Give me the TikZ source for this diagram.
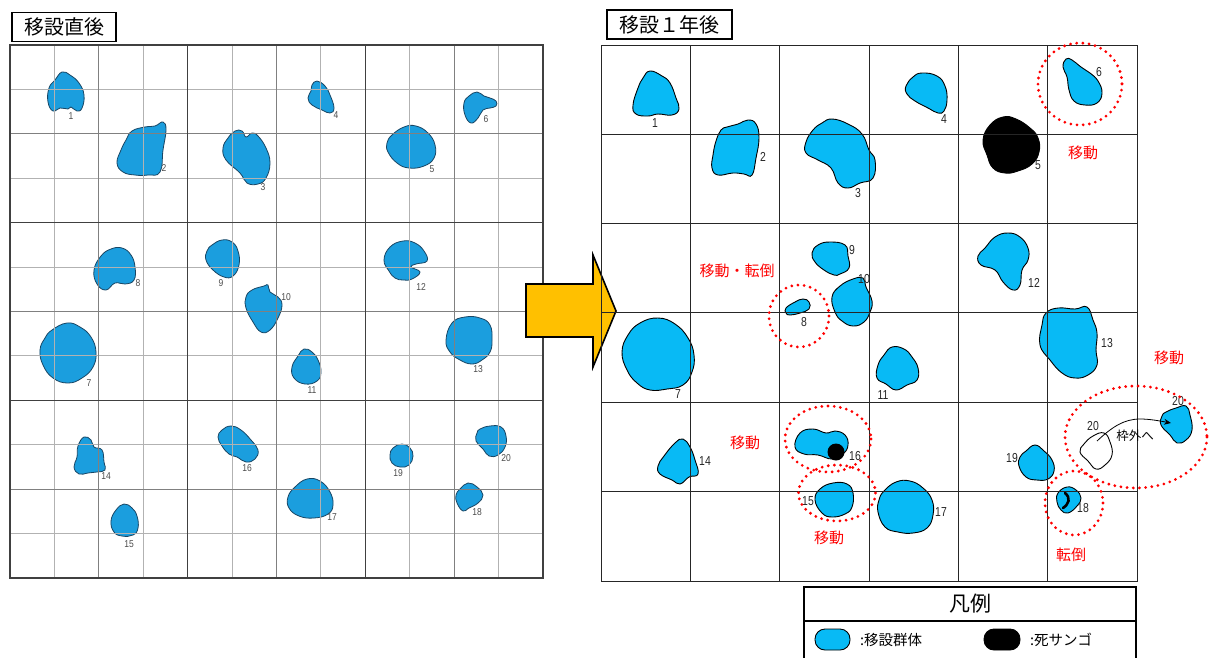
\documentclass[tikz,border=0pt]{standalone}
\usepackage{fontspec}
\setmainfont{Liberation Sans}
\newfontfamily\jp{Noto Sans CJK JP}
\usetikzlibrary{arrows.meta}
\definecolor{coralL}{RGB}{27,158,222}
\definecolor{coralLedge}{RGB}{25,70,100}
\definecolor{coralR}{RGB}{8,186,245}
\definecolor{arrowY}{RGB}{255,192,0}
\definecolor{noteR}{RGB}{255,0,0}
\tikzset{
  lthin/.style={draw=black!30, line width=0.9pt},
  lmid/.style={draw=black!50, line width=1.1pt},
  lthick/.style={draw=black!75, line width=1.6pt},
  rgrid/.style={draw=black!85, line width=1pt},
  blobL/.style={fill=coralL, draw=coralLedge, line width=0.8pt},
  blobR/.style={fill=coralR, draw=black, line width=0.9pt},
  deadR/.style={fill=black, draw=black, line width=0.9pt},
  ghostR/.style={fill=white, draw=black, line width=0.9pt},
  llbl/.style={font=\fontsize{10}{11}\selectfont, text=black!70, inner sep=0pt, xscale=0.85},
  rlbl/.style={font=\fontsize{13}{14}\selectfont, text=black!85, inner sep=0pt, xscale=0.8},
  note/.style={font=\jp\fontsize{15}{17}\selectfont, text=noteR, inner sep=0pt},
  ring/.style={draw=noteR, line width=3.1pt, dash pattern=on 0pt off 6.2pt, line cap=round},
  titlebox/.style={draw=black, line width=1.2pt, fill=white, font=\jp\fontsize{20}{22}\selectfont, inner sep=0pt},
  smoothblob/.style={smooth cycle, tension=0.75}
}
\begin{document}
\begin{tikzpicture}[x=1pt,y=-1pt]
\useasboundingbox (0,0) rectangle (1212,657);
\fill[white] (0,0) rectangle (1212,657);

% ---------------- left panel: just after transplanting ----------------
\path[blobL] plot[smoothblob] coordinates {(55,80) (62,72) (70,75) (79,83) (84,95) (82,108) (77,111) (71,107) (68,109) (60,108) (53,111) (48,102) (49,88)};
\path[blobL] plot[smoothblob] coordinates {(132,131) (145,127) (155,126) (163,122) (166,130) (163,150) (160,172) (148,175) (135,175) (123,172) (117,163) (121,150) (126,140)};
\path[blobL] plot[smoothblob] coordinates {(228,138) (235,131) (242,131) (246,137) (252,133) (258,136) (266,148) (270,163) (266,178) (258,184) (247,183) (240,173) (226,160) (223,148)};
\path[blobL] plot[smoothblob] coordinates {(312,85) (317,81) (325,86) (330,95) (334,108) (330,113) (322,110) (312,105) (308,98) (311,91)};
\path[blobL] plot[smoothblob] coordinates {(392,135) (404,127) (416,126) (428,133) (435,145) (434,158) (424,166) (409,168) (397,163) (388,152) (387,143)};
\path[blobL] plot[smoothblob] coordinates {(469,96) (477,92) (484,96) (490,98) (496,101) (496,106) (490,108) (483,110) (478,118) (471,123) (465,115) (464,103)};
\path[blobL] plot[smoothblob] coordinates {(52,330) (67,323) (80,327) (91,337) (96,352) (93,367) (82,378) (68,383) (53,378) (43,365) (40,350) (45,338)};
\path[blobL] plot[smoothblob] coordinates {(101,256) (111,249) (122,248) (131,255) (135,267) (134,280) (125,284) (115,283) (106,290) (97,284) (94,270)};
\path[blobL] plot[smoothblob] coordinates {(212,245) (222,240) (232,242) (238,251) (239,265) (233,276) (224,277) (213,270) (206,260) (207,251)};
\path[blobL] plot[smoothblob] coordinates {(252,290) (264,286) (268,285) (270,292) (278,297) (282,305) (278,318) (270,330) (261,332) (253,322) (246,308) (246,297)};
\path[blobL] plot[smoothblob] coordinates {(298,356) (304,349) (312,352) (318,360) (321,372) (317,381) (305,384) (294,378) (292,367)};
\path[blobL] plot[smoothblob] coordinates {(390,247) (403,241) (415,243) (424,251) (427,261) (416,264) (411,267) (420,272) (412,279) (403,280) (395,278) (389,271) (384,260)};
\path[blobL] plot[smoothblob] coordinates {(452,323) (465,317) (480,318) (490,325) (492,340) (490,352) (482,360) (472,364) (460,360) (450,352) (446,340)};
\path[blobL] plot[smoothblob] coordinates {(78,446) (84,437) (91,440) (94,447) (102,450) (104,462) (105,470) (97,472) (88,473) (79,474) (74,467) (77,457)};
\path[blobL] plot[smoothblob] coordinates {(116,510) (124,504) (132,508) (137,516) (138,528) (133,535) (122,536) (114,532) (111,521)};
\path[blobL] plot[smoothblob] coordinates {(222,430) (231,426) (241,430) (251,440) (258,450) (255,459) (246,462) (237,457) (229,454) (222,446) (218,437)};
\path[blobL] plot[smoothblob] coordinates {(295,487) (307,479) (320,481) (330,492) (333,505) (328,514) (314,518) (299,516) (289,508) (288,497)};
\path[blobL] plot[smoothblob] coordinates {(460,489) (468,483) (477,487) (483,495) (478,503) (469,508) (463,511) (457,503) (456,495)};
\path[blobL] plot[smoothblob] coordinates {(393,448) (402,444) (410,448) (413,456) (409,465) (400,467) (392,463) (390,455)};
\path[blobL] plot[smoothblob] coordinates {(480,429) (490,426) (501,427) (506,436) (505,447) (498,455) (489,456) (483,449) (476,441) (477,433)};

% survey grid, 12 x 12 cells
\foreach \i in {1,3,5,7,9,11} {
  \draw[lthin] ({10+\i*44.417},45) -- ++(0,533);
  \draw[lthin] (10,{45+\i*44.417}) -- ++(533,0);
}
\foreach \i in {2,6,10} {
  \draw[lmid] ({10+\i*44.417},45) -- ++(0,533);
  \draw[lmid] (10,{45+\i*44.417}) -- ++(533,0);
}
\foreach \i in {4,8} {
  \draw[lthick] ({10+\i*44.417},45) -- ++(0,533);
  \draw[lthick] (10,{45+\i*44.417}) -- ++(533,0);
}
\draw[lthick] (10,45) rectangle (543,578);

\node[llbl] (l1) at (71,116) {1};
\node[llbl] (l2) at (164,168) {2};
\node[llbl] (l3) at (263,187) {3};
\node[llbl] (l4) at (336,115) {4};
\node[llbl] (l5) at (432,169) {5};
\node[llbl] (l6) at (486,119) {6};
\node[llbl] (l7) at (89,383) {7};
\node[llbl] (l8) at (138,283) {8};
\node[llbl] (l9) at (221,283) {9};
\node[llbl] (l10) at (286,297) {10};
\node[llbl] (l11) at (312,390) {11};
\node[llbl] (l12) at (421,287) {12};
\node[llbl] (l13) at (478,369) {13};
\node[llbl] (l14) at (106,476) {14};
\node[llbl] (l15) at (129,544) {15};
\node[llbl] (l16) at (247,468) {16};
\node[llbl] (l17) at (332,517) {17};
\node[llbl] (l18) at (477,512) {18};
\node[llbl] (l19) at (398,473) {19};
\node[llbl] (l20) at (506,458) {20};

\node[titlebox, minimum width=104pt, minimum height=29pt] (tleft) at (64,27) {移設直後};

% ---------------- transition arrow ----------------
\draw[fill=arrowY, line width=1.6pt, line join=miter] (526,284) -- (593,284) -- (593,255) -- (616,311) -- (593,367) -- (593,337) -- (526,337) -- cycle;

% ---------------- right panel: one year later ----------------
\path[blobR] plot[smoothblob] coordinates {(650,71) (662,76) (670,83) (676,98) (679,109) (672,115) (658,114) (648,116) (636,114) (633,105) (638,88) (643,78)};
\path[blobR] plot[smoothblob] coordinates {(727,127) (738,124) (748,120) (756,124) (759,138) (756,158) (752,175) (744,174) (733,173) (718,175) (712,168) (713,155) (716,141) (721,130)};
\path[blobR] plot[smoothblob] coordinates {(822,123) (832,119) (848,124) (862,134) (869,150) (875,160) (873,178) (860,183) (848,188) (838,183) (831,168) (818,160) (806,153) (806,142) (813,130)};
\path[blobR] plot[smoothblob] coordinates {(906,86) (913,77) (922,73) (937,76) (945,86) (947,100) (944,111) (938,113) (928,108) (915,101) (907,94)};
\path[deadR] plot[smoothblob] coordinates {(990,125) (1003,117) (1016,119) (1030,128) (1038,138) (1039,152) (1032,164) (1018,171) (1005,173) (993,168) (987,155) (983,140)};
\path[blobR] plot[smoothblob] coordinates {(1066,59) (1072,60) (1081,67) (1090,73) (1098,81) (1102,93) (1097,103) (1085,105) (1074,101) (1069,90) (1067,77) (1063,67)};
\path[blobR] plot[smoothblob] coordinates {(640,323) (658,318) (675,324) (688,338) (694,355) (692,372) (683,385) (667,389) (650,390) (637,383) (627,370) (622,352) (628,335)};
\path[blobR] plot[smoothblob] coordinates {(786,308) (795,302) (803,299) (809,302) (809,309) (800,313) (790,315) (786,313)};
\path[blobR] plot[smoothblob] coordinates {(812,253) (818,245) (830,242) (845,245) (848,256) (849,268) (840,274) (834,275) (824,270) (815,262)};
\path[blobR] plot[smoothblob] coordinates {(840,286) (853,279) (863,278) (866,287) (872,301) (870,312) (864,322) (853,326) (842,321) (835,312) (832,297)};
\path[blobR] plot[smoothblob] coordinates {(884,355) (892,347) (904,349) (912,357) (918,368) (917,380) (907,385) (896,390) (886,384) (877,378) (878,365)};
\path[blobR] plot[smoothblob] coordinates {(985,248) (995,237) (1008,233) (1020,237) (1028,248) (1028,260) (1022,270) (1020,285) (1013,290) (1003,282) (995,270) (981,265) (978,256)};
\path[blobR] plot[smoothblob] coordinates {(1046,313) (1058,308) (1075,309) (1087,307) (1093,320) (1097,333) (1096,350) (1097,365) (1088,375) (1075,378) (1062,373) (1050,360) (1040,345) (1042,325)};
\path[blobR] plot[smoothblob] coordinates {(675,443) (683,439) (690,447) (695,460) (698,474) (689,477) (680,484) (672,480) (660,474) (658,466) (664,456)};
\path[blobR] plot[smoothblob] coordinates {(800,433) (813,429) (826,433) (835,431) (845,435) (848,445) (843,454) (832,459) (818,455) (804,454) (795,447)};
\fill[black] (836,452) circle (8.5);
\path[blobR] plot[smoothblob] coordinates {(820,489) (833,483) (847,484) (853,493) (852,507) (845,514) (832,517) (822,513) (815,500)};
\path[blobR] plot[smoothblob] coordinates {(884,491) (896,482) (910,481) (923,488) (932,500) (933,515) (927,528) (913,533) (898,532) (885,527) (878,512) (879,500)};
\path[blobR] plot[smoothblob] coordinates {(1026,451) (1035,445) (1044,451) (1052,460) (1054,471) (1048,479) (1037,480) (1026,477) (1019,466) (1020,457)};
\path[blobR] plot[smoothblob] coordinates {(1058,493) (1067,487) (1076,490) (1081,498) (1077,506) (1068,513) (1061,510) (1057,502)};
\draw[line width=2.6pt, line cap=round] (1065,493) .. controls (1071,498) and (1069,504) .. (1063,508);
\path[ghostR] plot[smoothblob] coordinates {(1084,444) (1093,436) (1104,433) (1110,442) (1112,455) (1105,465) (1096,469) (1088,461) (1080,452)};
\path[blobR] plot[smoothblob] coordinates {(1166,412) (1176,408) (1186,406) (1190,415) (1192,430) (1186,440) (1177,443) (1170,435) (1161,425) (1162,416)};

% survey grid, 6 x 6 cells
\foreach \i in {1,...,5} {
  \draw[rgrid] ({601+\i*89.33},45) -- ++(0,536);
  \draw[rgrid] (601,{45+\i*89.33}) -- ++(536,0);
}
\draw[rgrid] (601,45) rectangle (1137,581);

\node[rlbl] (r1) at (655,123) {1};
\node[rlbl] (r2) at (763,157) {2};
\node[rlbl] (r3) at (858,193) {3};
\node[rlbl] (r4) at (944,119) {4};
\node[rlbl] (r5) at (1038,165) {5};
\node[rlbl] (r6) at (1099,72) {6};
\node[rlbl] (r7) at (678,394) {7};
\node[rlbl] (r8) at (804,322) {8};
\node[rlbl] (r9) at (852,250) {9};
\node[rlbl] (r10) at (864,279) {10};
\node[rlbl] (r11) at (883,395) {11};
\node[rlbl] (r12) at (1034,283) {12};
\node[rlbl] (r13) at (1107,343) {13};
\node[rlbl] (r14) at (705,461) {14};
\node[rlbl] (r15) at (808,501) {15};
\node[rlbl] (r16) at (855,456) {16};
\node[rlbl] (r17) at (941,512) {17};
\node[rlbl] (r18) at (1083,508) {18};
\node[rlbl] (r19) at (1012,458) {19};
\node[rlbl] (r20a) at (1093,426) {20};
\node[rlbl] (r20b) at (1178,401) {20};

% displacement of colony 20 out of the frame
\coordinate (from20) at (1097,441);
\coordinate (to20) at (1171,423);
\draw[line width=0.8pt, -{Stealth[length=7pt, width=6pt]}] (from20) .. controls (1112,427) and (1124,419) .. (1140,419) .. controls (1150,419) and (1160,421) .. (to20);
\node[font=\jp\fontsize{12.5}{14}\selectfont, inner sep=0pt] (out20) at (1135,436) {枠外へ};

% marked changes
\draw[ring] (1080,84) ellipse [x radius=42, y radius=41];
\draw[ring] (799,316) ellipse [x radius=30, y radius=31];
\draw[ring] (828,439) ellipse [x radius=43, y radius=33];
\draw[ring] (837,493) ellipse [x radius=38.5, y radius=28];
\draw[ring] (1074,503) ellipse [x radius=29, y radius=32];
\draw[ring] (1136,437) ellipse [x radius=71, y radius=51];

\node[note] (n6) at (1083,153) {移動};
\node[note] (n8) at (737,271) {移動・転倒};
\node[note] (n14) at (745,443) {移動};
\node[note] (n15) at (829,538) {移動};
\node[note] (n18) at (1071,555) {転倒};
\node[note] (n20) at (1169,358) {移動};

\node[titlebox, minimum width=125pt, minimum height=29pt] (tright) at (669.5,24.5) {移設１年後};

% ---------------- legend ----------------
\draw[line width=1.4pt, fill=white] (804,587) rectangle (1136,662);
\draw[line width=1.2pt] (804,621) -- (1136,621);
\node[font=\jp\fontsize{21}{23}\selectfont, inner sep=0pt] (legtitle) at (970,604) {凡例};
\draw[fill=coralR, line width=0.9pt, rounded corners=10pt] (815,629) rectangle (850,650);
\node[font=\jp\fontsize{14.5}{16}\selectfont, anchor=west, inner sep=0pt] (leglive) at (860,640) {:移設群体};
\draw[fill=black, line width=0.9pt, rounded corners=10pt] (984,629) rectangle (1020,650);
\node[font=\jp\fontsize{14.5}{16}\selectfont, anchor=west, inner sep=0pt] (legdead) at (1030,640) {:死サンゴ};
\end{tikzpicture}
\end{document}
